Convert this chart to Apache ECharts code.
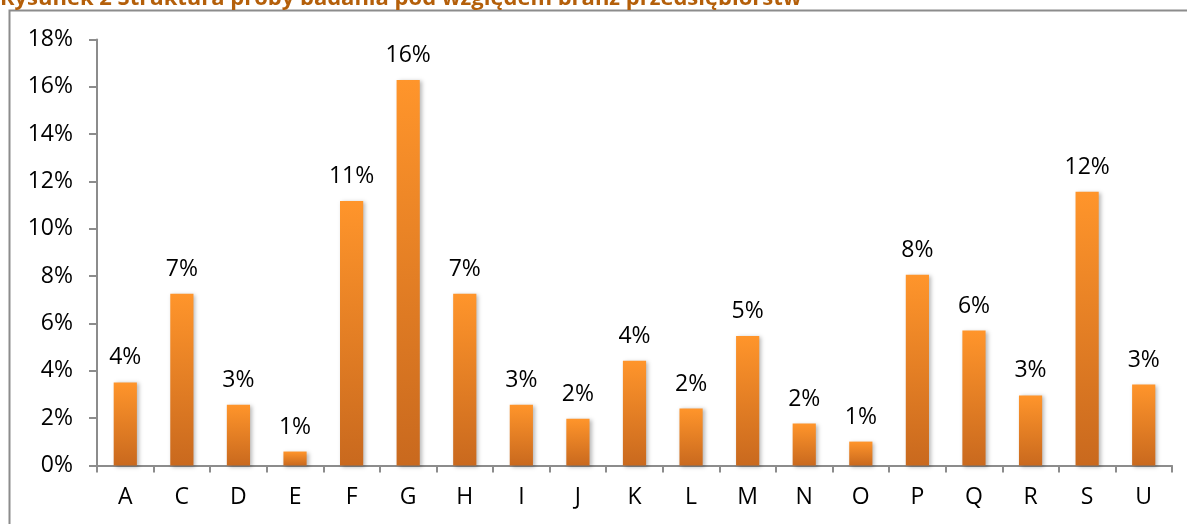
<!DOCTYPE html>
<html>
<head>
<meta charset="utf-8">
<script src="https://cdn.jsdelivr.net/npm/echarts@6/dist/echarts.min.js"></script>
<style>
html,body{margin:0;padding:0;background:#fff;}
#chart{width:1187px;height:524px;}
</style>
</head>
<body>
<div id="chart"></div>
<script>
const titleText = 'Rysunek 2 Struktura próby badania pod względem branż przedsiębiorstw';
const categories = ['A','C','D','E','F','G','H','I','J','K','L','M','N','O','P','Q','R','S','U'];
const values = [3.51, 7.26, 2.57, 0.59, 11.18, 16.29, 7.26, 2.57, 1.98, 4.43, 2.41, 5.47, 1.77, 1.01, 8.06, 5.70, 2.96, 11.57, 3.42];
const yMin = 0, yMax = 18, yStep = 2;

const FONT = '"Open Sans", "DejaVu Sans", sans-serif';
const chart = echarts.init(document.getElementById('chart'), null, {renderer: 'canvas'});
chart.setOption({
  animation: false,
  backgroundColor: '#ffffff',
  title: {
    text: titleText,
    left: 0, top: -12,
    padding: 0,
    textStyle: {fontFamily: FONT, fontWeight: 'bold', fontSize: 22, color: '#b45f0a'}
  },
  graphic: [{
    type: 'rect', z: 0, silent: true,
    shape: {x: 9.5, y: 10.5, width: 1300, height: 700},
    style: {fill: 'none', stroke: '#8c8c8c', lineWidth: 2}
  }],
  grid: {left: 97, right: 15, top: 39.5, bottom: 58.5, containLabel: false},
  xAxis: {
    type: 'category',
    data: categories,
    axisLine: {lineStyle: {color: '#8c8c8c', width: 2}},
    axisTick: {show: true, alignWithLabel: false, length: 7, lineStyle: {color: '#8c8c8c', width: 2}},
    axisLabel: {fontFamily: FONT, fontSize: 23, color: '#000', margin: 20},
    splitLine: {show: false}
  },
  yAxis: {
    type: 'value',
    min: yMin, max: yMax, interval: yStep,
    axisLine: {show: true, lineStyle: {color: '#8c8c8c', width: 2}},
    axisTick: {show: true, length: 8, lineStyle: {color: '#8c8c8c', width: 2}},
    axisLabel: {fontFamily: FONT, fontSize: 23, color: '#000', margin: 24,
      formatter: v => Math.round(v) + '%'},
    splitLine: {show: false}
  },
  series: [{
    type: 'bar',
    data: values,
    barWidth: '41%',
    itemStyle: {
      color: new echarts.graphic.LinearGradient(0, 0, 0, 1, [
        {offset: 0, color: '#ff952b'},
        {offset: 1, color: '#c9691e'}
      ]),
      shadowBlur: 4, shadowColor: 'rgba(0,0,0,0.28)', shadowOffsetX: 2, shadowOffsetY: 1
    },
    label: {
      show: true, position: 'top', distance: 13,
      fontFamily: FONT, fontSize: 23, color: '#000',
      formatter: p => Math.round(p.value) + '%'
    }
  }]
});
</script>
</body>
</html>
